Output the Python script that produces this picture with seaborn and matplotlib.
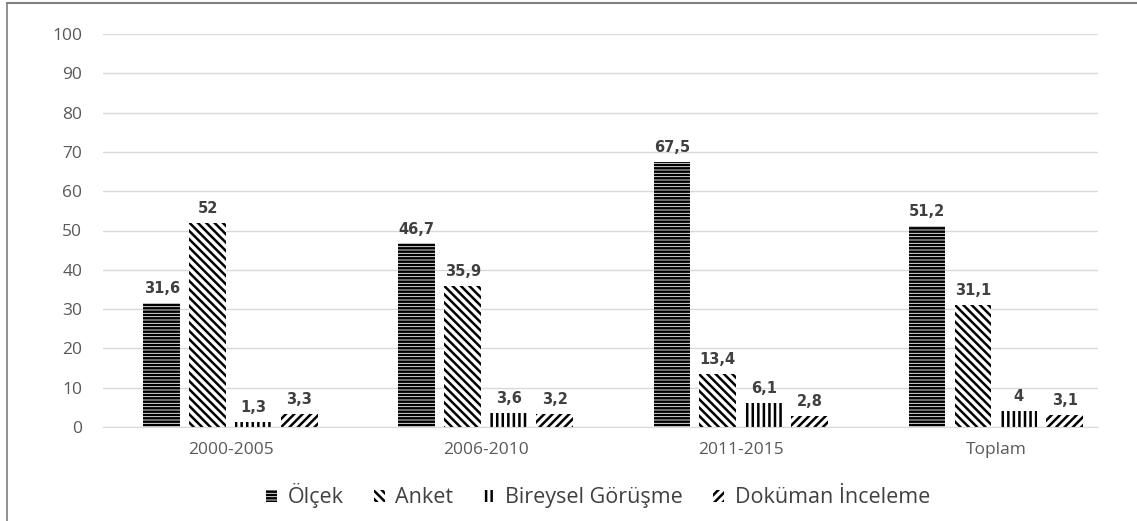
import matplotlib
matplotlib.use("Agg")
import pandas as pd
import seaborn as sns
import matplotlib.pyplot as plt
from matplotlib.patches import Patch
from matplotlib.lines import Line2D

periods = ["2000-2005", "2006-2010", "2011-2015", "Toplam"]
methods = ["Ölçek", "Anket", "Bireysel Görüşme", "Doküman İnceleme"]
olcek = [31.6, 46.7, 67.5, 51.2]
anket = [52, 35.9, 13.4, 31.1]
bireysel = [1.3, 3.6, 6.1, 4]
dokuman = [3.3, 3.2, 2.8, 3.1]
hatches = ["-----", "\\\\\\\\", "|||", "////"]

rows = []
for m, vals in zip(methods, [olcek, anket, bireysel, dokuman]):
    for p, v in zip(periods, vals):
        rows.append({"Dönem": p, "Yöntem": m, "Oran": v})
df = pd.DataFrame(rows)

sns.set_style("white")
plt.rcParams["font.family"] = ["Open Sans", "DejaVu Sans"]
plt.rcParams["hatch.linewidth"] = 1.8

fig = plt.figure(figsize=(11.37, 5.21), dpi=100)
ax = fig.add_axes([103 / 1137, (521 - 427) / 521, (1098 - 103) / 1137, (427 - 34) / 521])

sns.barplot(data=df, x="Dönem", y="Oran", hue="Yöntem", order=periods, hue_order=methods,
            width=0.72, gap=0.2, color="white", edgecolor="black", linewidth=0,
            legend=False, ax=ax)

for cont, h in zip(ax.containers, hatches):
    for bar in cont:
        bar.set_facecolor("white")
        bar.set_edgecolor("black")
        bar.set_linewidth(0)
        bar.set_hatch(h)
    labels = [f"{v:g}".replace(".", ",") for v in cont.datavalues]
    ax.bar_label(cont, labels=labels, padding=5, fontsize=10.5, fontweight="bold",
                 color="#404040", family="DejaVu Sans")

ax.set_ylim(0, 100)
ax.set_xlim(-0.5, 3.40)
ax.set_yticks(range(0, 101, 10))
ax.yaxis.grid(True, color="#d9d9d9", linewidth=1)
ax.set_axisbelow(True)
ax.set_xlabel("")
ax.set_ylabel("")
for s in ["top", "right", "left"]:
    ax.spines[s].set_visible(False)
ax.spines["bottom"].set_color("#d9d9d9")
ax.tick_params(axis="y", length=0, pad=15, labelsize=12.5, labelcolor="#595959")
ax.tick_params(axis="x", length=0, pad=11, labelsize=12.5, labelcolor="#595959")

handles = [Patch(facecolor="white", edgecolor="black", linewidth=0, hatch=h) for h in hatches]
fig.legend(handles, methods, loc="center", bbox_to_anchor=(0.526, 0.048), ncol=4,
           frameon=False, fontsize=15.5, handlelength=0.5, handleheight=0.5,
           handletextpad=0.5, columnspacing=1.4, labelcolor="#404040")

# frame lines of the original picture (top and left only)
fig.add_artist(Line2D([7 / 1137, 1], [1 - 3 / 521, 1 - 3 / 521], transform=fig.transFigure,
                      color="#7f7f7f", linewidth=1.5))
fig.add_artist(Line2D([7 / 1137, 7 / 1137], [0, 1 - 3 / 521], transform=fig.transFigure,
                      color="#7f7f7f", linewidth=1.2))

fig.savefig("out.png", dpi=100)
